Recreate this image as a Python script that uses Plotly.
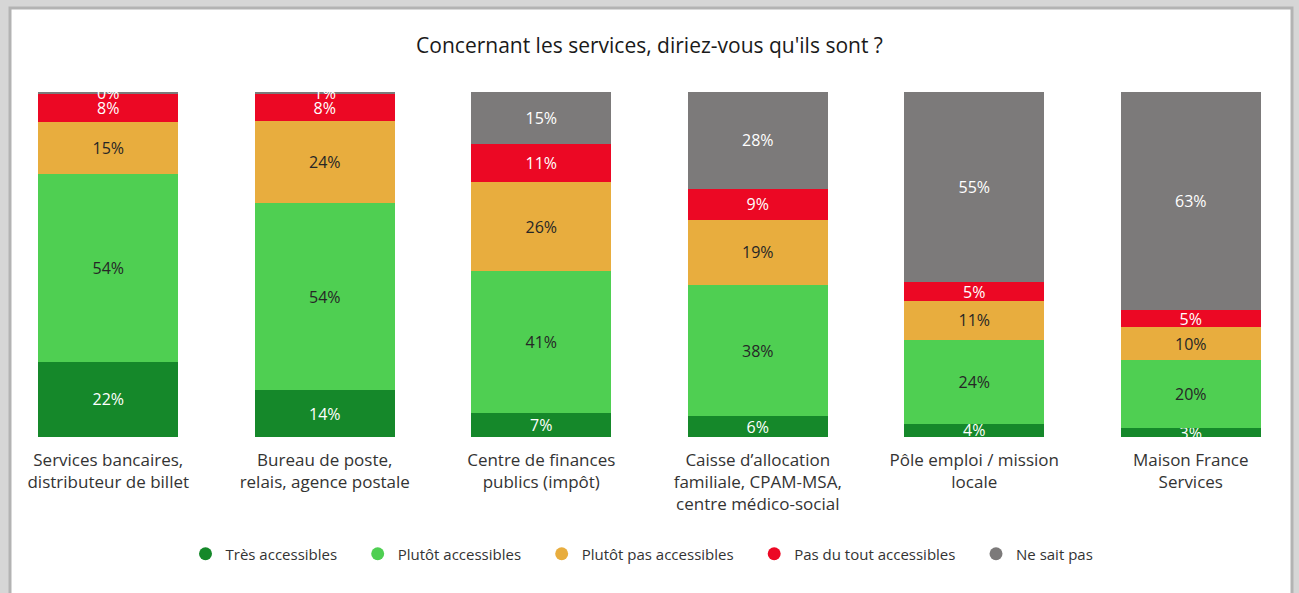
import plotly.graph_objects as go

categories = ["Services bancaires,<br>distributeur de billet",
              "Bureau de poste,<br>relais, agence postale",
              "Centre de finances<br>publics (impôt)",
              "Caisse d’allocation<br>familiale, CPAM-MSA,<br>centre médico-social",
              "Pôle emploi / mission<br>locale",
              "Maison France<br>Services"]

tres = [21.8, 13.6, 7.0, 6.0, 3.8, 2.6]
plutot = [54.3, 54.2, 41.0, 38.0, 24.4, 19.6]
plutot_pas = [15.3, 23.9, 26.0, 19.0, 11.2, 9.6]
pas_du_tout = [8.2, 7.6, 11.0, 9.0, 5.4, 5.0]
ne_sait_pas = [0.4, 0.7, 15.0, 28.0, 55.2, 63.2]

series = [
    ("Très accessibles", tres, "#15882a", "white"),
    ("Plutôt accessibles", plutot, "#4fcf52", "#262626"),
    ("Plutôt pas accessibles", plutot_pas, "#e8ad3e", "#262626"),
    ("Pas du tout accessibles", pas_du_tout, "#ec0824", "white"),
    ("Ne sait pas", ne_sait_pas, "#7c7a7a", "white"),
]

W, H = 1299, 593
T, B = 92, 156

fig = go.Figure()
for name, vals, col, tcol in series:
    fig.add_trace(go.Bar(x=categories, y=vals, name=name, marker_color=col,
                         marker_line_width=0, showlegend=False,
                         texttemplate="%{y:.0f}%", textposition="inside",
                         insidetextanchor="middle", textangle=0,
                         textfont=dict(color=tcol, size=16, family="Open Sans")))
# legend entries drawn as circles (nbsp padding widens the gap between items)
for name, vals, col, tcol in series:
    fig.add_trace(go.Scatter(x=[None], y=[None], mode="markers",
                             name=name + "\u00a0" * 4,
                             marker=dict(color=col, size=13, symbol="circle")))

# grey frame around the chart
px = lambda v: v / W
py = lambda v: (H - B - v) / (H - T - B)
fig.add_shape(type="rect", xref="paper", yref="paper", layer="below",
              x0=px(10), x1=px(1292), y0=py(8), y1=py(600),
              fillcolor="white", line=dict(color="#b3b3b3", width=3))

fig.update_layout(
    width=W, height=H,
    barmode="stack", bargap=0.353,
    margin=dict(l=0, r=0, t=T, b=B),
    paper_bgcolor="#d6d6d6", plot_bgcolor="rgba(0,0,0,0)",
    font=dict(family="Open Sans", color="#333333"),
    title=dict(text="Concernant les services, diriez-vous qu'ils sont ?",
               x=0.5, xanchor="center", y=1 - 46 / H, yanchor="middle",
               font=dict(size=21, color="#1a1a1a")),
    uniformtext=dict(minsize=16, mode="show"),
    legend=dict(orientation="h", x=0.5, xanchor="center", y=py(554), yanchor="middle",
                traceorder="normal",
                font=dict(size=15, color="#333333"), bgcolor="rgba(0,0,0,0)"),
)
fig.update_xaxes(range=[-0.5, 5.5], showgrid=False, showline=False, ticks="",
                 tickfont=dict(size=17, color="#333333"), ticklabelstandoff=11)
fig.update_yaxes(range=[0, 100], visible=False)

fig.write_html("out.html", config={"displayModeBar": False},
               post_script="document.body.style.margin='0';")
